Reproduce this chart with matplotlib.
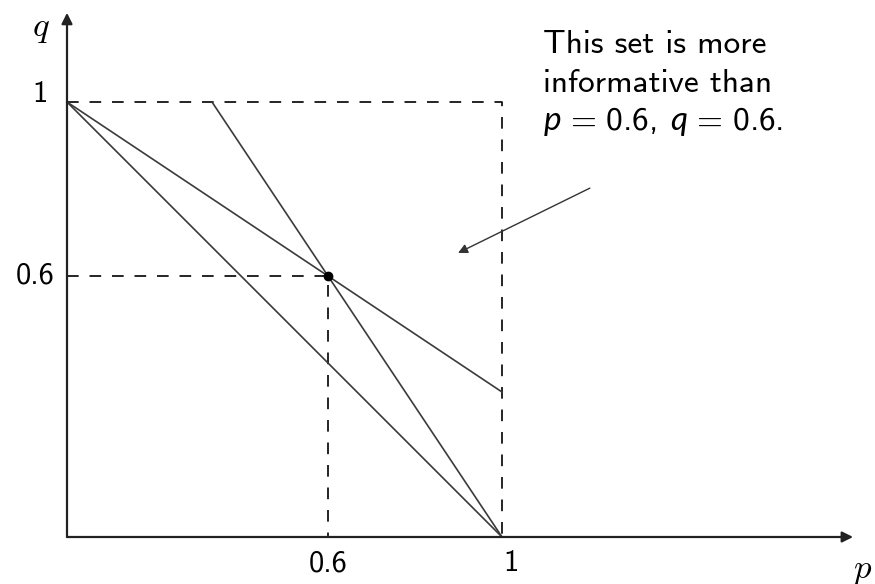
import matplotlib
matplotlib.use("Agg")
import matplotlib.pyplot as plt

plt.rcParams['mathtext.fontset'] = 'custom'
plt.rcParams['mathtext.rm'] = 'cmss10'
plt.rcParams['mathtext.it'] = 'Lato:italic'
plt.rcParams['axes.unicode_minus'] = False

# the reference point and the unit square
point_p, point_q = 0.6, 0.6
corner = 1.0

# segments through (p, q): diagonal, line from (0,1) through the point, line from (1,0) through the point
seg_p = [[0, 1], [0, 1], [1/3, 1]]
seg_q = [[1, 0], [1, 1/3], [1, 0]]

note_lines = ["This set is more", "informative than", r"$p\,=\,0.6,\;q\,=\,0.6.$"]

fig = plt.figure(figsize=(8.75, 5.84), dpi=100)
ax = fig.add_axes([0, 0, 1, 1])
ax.set_xlim(-67/435, 808/435)
ax.set_ylim(-47/435, 537/435)
ax.axis('off')

# axes with arrow heads
ax.annotate('', xy=(1.807, 0), xytext=(0, 0),
            arrowprops=dict(arrowstyle='-|>', lw=1.6, color='#222222', mutation_scale=16, shrinkA=0, shrinkB=0))
ax.annotate('', xy=(0, 1.205), xytext=(0, 0),
            arrowprops=dict(arrowstyle='-|>', lw=1.6, color='#222222', mutation_scale=16, shrinkA=0, shrinkB=0))

# dashed guides
dash = dict(color='black', lw=1.2, ls=(0, (7, 6.5)))
ax.plot([0, corner, corner], [corner, corner, 0], **dash)
ax.plot([0, point_p, point_p], [point_q, point_q, 0], **dash)

for xs, ys in zip(seg_p, seg_q):
    ax.plot(xs, ys, color='#3a3a3a', lw=1.2)

ax.plot([point_p], [point_q], 'o', color='black', ms=6)

# tick labels and axis names
tick_font = dict(family='cmss10', size=22, color='black')
ax.text(-0.062, corner, '1', ha='center', va='baseline', **tick_font)
ax.text(-0.074, point_q, '0.6', ha='center', va='center', **tick_font)
ax.text(point_p, -0.062, '0.6', ha='center', va='center', **tick_font)
ax.text(corner + 0.02, -0.062, '1', ha='center', va='center', **tick_font)
ax.text(-0.062, 1.172, 'q', ha='center', va='center', family='cmmi10', size=25)
ax.text(1.828, -0.074, 'p', ha='center', va='center', family='cmmi10', size=25)

# annotation
note_font = dict(family='cmss10', size=24, color='black')
for line, base in zip(note_lines, [1.1126, 1.0230, 0.9356]):
    ax.text(1.094, base, line, ha='left', va='baseline', **note_font)
ax.annotate('', xy=(0.899, 0.653), xytext=(1.202, 0.802),
            arrowprops=dict(arrowstyle='-|>', lw=1.0, color='#333333', mutation_scale=14, shrinkA=0, shrinkB=0))

fig.savefig('out.png', dpi=100)
